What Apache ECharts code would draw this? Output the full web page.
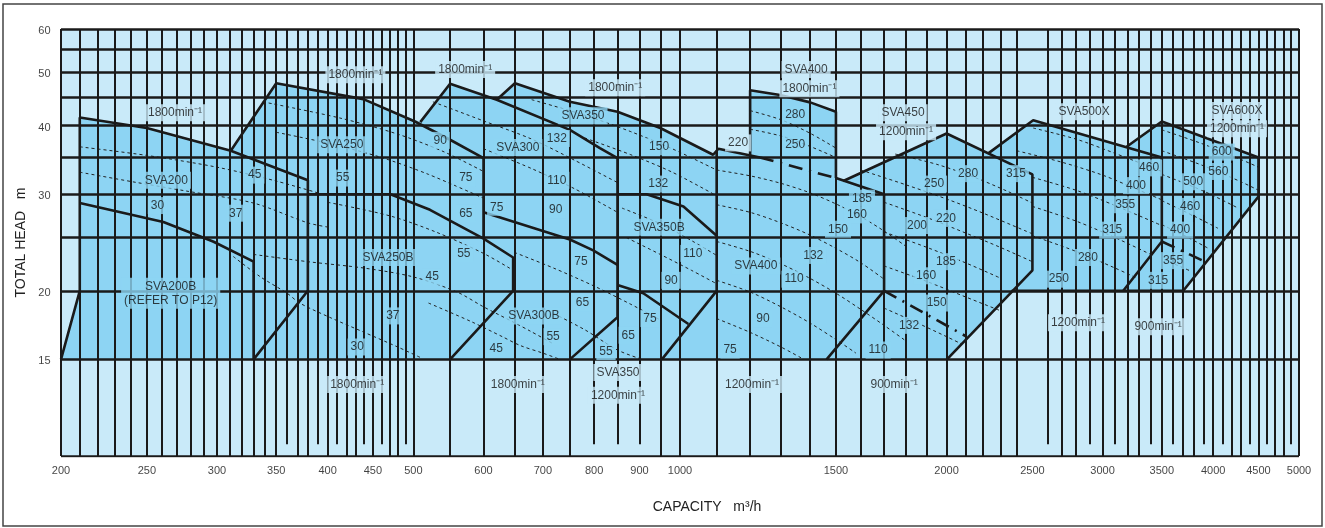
<!DOCTYPE html>
<html><head><meta charset="utf-8">
<script src="https://cdn.jsdelivr.net/npm/echarts@6/dist/echarts.min.js"></script>
<style>html,body{margin:0;padding:0;background:#fff}#c{width:1325px;height:528px}</style>
</head><body><div id="c"></div><script>
const LIGHT='#c9eaf9', MID='#8dd4f3', INK='#1a1a1a', FONT="'Liberation Sans', Arial, sans-serif";

const X_TICKS=[200,250,300,350,400,450,500,600,700,800,900,1000,1500,2000,2500,3000,3500,4000,4500,5000];
const Y_TICKS=[15,20,30,40,50,60];
const GRID_X=[200,210,220,230,240,250,260,270,280,290,300,310,320,330,340,350,360,370,380,390,400,410,420,430,440,450,460,470,480,490,500,
 550,600,650,700,750,800,850,900,950,1000,1100,1200,1300,1400,1500,1600,1700,1800,1900,2000,2100,2200,2300,2400,
 2600,2700,2800,2900,3000,3100,3200,3300,3400,3500,3600,3700,3800,3900,4000,4100,4200,4300,4400,4500,4600,4700,4800,4900,5000];
const GRID_X_SHORT=[360,390,410,440,460,490,800,850,900,2600,2900,3100,3400,3600,3900,4100,4400,4600,4900];
const GRID_Y=[15,20,25,30,35,40,45,50,55,60];

// filled envelope of all pump ranges
const FILL=[[200,15],[210,20],[210,41.4],[250,39.6],[311,36.0],[350,47.8],[439,44.7],[509,40.6],[550,47.7],[621,44.6],[651,47.8],[751,44.2],[850,42.4],[950,39.6],[1090,35.4],[1105,36.3],[1200,35.3],[1200,46.4],[1297,45.5],[1403,44.1],[1500,42.4],[1500,32.1],[1529,31.7],[2000,38.7],[2229,35.6],[2505,40.9],[3194,36.6],[3500,40.7],[4500,35.0],[4500,29.7],[3701,20],[2368,20],[2002,15]];

// solid outlines
const O_200=[[200,15],[210,20],[210,41.4],[250,39.6],[311,36.0],[380,31.8],[380,20]];
const O_200B=[[210,28.9],[261,26.7],[297,24.6],[330,22.6],[330,15],[380,20]];
const O_250=[[311,36.0],[350,47.8],[439,44.7],[502,40.7],[550,37.7],[600,34.9],[600,24.9]];
const O_250B=[[380,30],[471,30],[522,28.1],[600,24.9],[648,23.0],[648,20],[550,15]];
const O_300=[[509,40.6],[550,47.7],[621,44.6],[751,39.3],[812,36.4],[850,34.9],[850,17.9],[751,15]];
const O_300_75=[[600,27.8],[751,24.8],[798,23.7],[850,22.3]];
const O_350=[[621,44.6],[651,47.8],[751,44.2],[850,42.4],[950,39.6],[1090,35.4],[1105,36.3],[1231,35.0]];
const O_350B=[[850,30],[917,30],[1009,28.5],[1100,25.2]];
const O_350L=[[850,20.5],[909,19.8],[1022,17.4]];
const O_400L=[[1100,36.0],[1100,20],[954,15]];
const O_400H=[[1200,35.3],[1200,46.4],[1297,45.5],[1403,44.1],[1500,42.4],[1500,32.1]];
const O_400R=[[1500,32.1],[1700,30],[1700,20],[1464,15]];
const O_450=[[1529,31.7],[2000,38.7],[2500,32.6],[2500,21.8],[2002,15]];
const O_500=[[2229,35.6],[2505,40.9],[3500,35.0],[3500,24.6],[3166,20]];
const O_600=[[3194,36.6],[3500,40.7],[4500,35.0],[4500,29.7],[3701,20],[2368,20]];
// dash-dot boundaries
const B_400=[[1231,35.0],[1500,32.1]];
const B_450=[[1700,20],[2107,16.5]];
const B_600=[[3500,24.6],[3916,22.6]];

// thin dashed curves
const D_200A=[[210,36.6],[250,35.3],[300,33.6],[350,31.7],[400,29.8]];
const D_200B=[[210,32.9],[241,31.6],[277,30.4],[330,28.9],[380,26.6],[402,26.1]];
const D_200C=[[313,23.1],[336,21.2],[360,19.8],[372,19.0],[402,17.9],[440,16.8],[480,15.8],[510,15.1]];
const D_250A=[[338,44.2],[413,41.3],[480,38.6],[540,35.9],[600,33.0]];
const D_250B=[[350,38.9],[402,37.1],[460,35.0],[520,32.6],[600,29.5]];
const D_250C=[[400,29.0],[470,27.4],[530,25.6],[600,23.4],[648,21.8]];
const D_250D=[[330,23.3],[380,22.6],[440,22.0],[500,21.2],[560,19.9],[600,18.7],[650,17.5],[677,16.9],[720,16.0]];
const D_300A=[[526,44.2],[600,40.8],[680,37.8],[760,34.6],[850,31.5]];
const D_300B=[[600,36.3],[680,33.4],[760,30.7],[850,27.8]];
const D_300C=[[650,23.5],[720,22.0],[800,20.4],[880,18.9],[950,17.7]];
const D_300D=[[520,19.0],[580,17.6],[630,16.5],[660,15.9],[700,15.4],[732,15.0]];
const D_300E=[[700,18.6],[780,17.0],[850,15.6],[906,15.0]];
const D_350A=[[680,44.6],[780,41.8],[880,39.0],[980,36.3],[1100,33.2]];
const D_350B=[[780,38.0],[880,35.4],[980,32.9],[1100,29.8]];
const D_350C=[[860,28.3],[950,26.5],[1030,24.7],[1100,23.2]];
const D_350D=[[870,25.0],[950,23.3],[1030,21.8],[1100,20.6]];
const D_400HA=[[1200,42.6],[1300,41.0],[1400,38.8],[1500,36.4]];
const D_400HB=[[1200,39.4],[1300,38.3],[1400,36.7],[1500,35.0]];
const D_400A=[[1100,33.2],[1200,32.4],[1300,31.4],[1400,30.2],[1500,28.8],[1600,27.3],[1700,25.7],[1800,24.1]];
const D_400B=[[1100,28.7],[1200,27.8],[1300,26.6],[1400,25.3],[1500,23.9],[1600,22.5],[1700,21.0]];
const D_400C=[[1100,24.6],[1200,23.6],[1300,22.4],[1400,21.1],[1500,19.8],[1600,18.5],[1700,17.3],[1800,16.2]];
const D_400D=[[1100,20.9],[1200,19.9],[1300,18.7],[1400,17.5],[1500,16.3],[1580,15.4]];
const D_400E=[[1100,17.8],[1200,16.8],[1300,15.8],[1380,15.0]];
const D_450A=[[1750,35.5],[1950,34.0],[2150,32.2],[2350,30.3],[2500,28.9]];
const D_450B=[[1600,33.2],[1800,31.2],[2000,29.4],[2200,27.7],[2500,25.4]];
const D_450C=[[1700,29.0],[1900,27.2],[2100,25.5],[2300,24.0],[2500,22.6]];
const D_450D=[[1700,25.6],[1900,24.0],[2100,22.5],[2300,21.1]];
const D_450E=[[1700,22.2],[1900,20.8],[2100,19.5],[2300,18.4]];
const D_450F=[[1700,18.6],[1850,17.5],[2000,16.5],[2080,16.0]];
const D_500A=[[2505,39.6],[2800,37.8],[3100,35.6],[3500,33.0]];
const D_500B=[[2400,36.0],[2700,34.3],[3000,32.5],[3300,30.5],[3500,29.3]];
const D_500C=[[2500,32.2],[2800,30.5],[3100,28.6],[3500,26.3]];
const D_500D=[[2500,28.5],[2800,26.8],[3100,25.0],[3400,23.3]];
const D_500E=[[2500,25.2],[2800,23.6],[3100,22.0],[3300,21.0]];
const D_600A=[[3500,39.3],[3900,37.0],[4300,34.7],[4500,33.6]];
const D_600B=[[3500,36.0],[3900,33.8],[4300,31.6],[4500,30.5]];
const D_600C=[[3500,32.6],[3900,30.4],[4250,28.4]];
const D_600D=[[3500,29.2],[3800,27.4],[4050,26.0]];
const D_600E=[[3500,26.4],[3750,25.0],[3950,23.9]];
const D_600F=[[3520,22.8],[3780,21.7]];

// labels: [text, capacity, head]
const LABELS_OUT=[
 ['1800min⁻¹',269,42.2],['1800min⁻¹',430,49.5],['1800min⁻¹',572,50.6],['1800min⁻¹',845,46.9],
 ['SVA400',1388,50.6],['1800min⁻¹',1400,46.7],['220',1163,37.2],
 ['SVA450',1786,42.2],['1200min⁻¹',1800,39.0],['SVA500X',2860,42.4],['SVA600X',4256,42.6],['1200min⁻¹',4256,39.5],
 ['1800min⁻¹',432,13.5],['1800min⁻¹',656,13.5],['SVA350',851,14.2],['1200min⁻¹',851,12.9],['1200min⁻¹',1206,13.5],['900min⁻¹',1745,13.5],
 ['1200min⁻¹',2814,17.5],['900min⁻¹',3466,17.2]
];
const LABELS_IN=[
 ['SVA200',263,31.8],['45',331,32.5],['30',257,28.6],['37',315,27.7],['SVA200B\n(REFER TO P12)',266,19.8],
 ['SVA250',415,36.9],['55',416,32.1],['90',536,37.6],['75',573,32.1],['65',573,27.7],['75',621,28.4],
 ['SVA300',656,36.5],['132',726,37.9],['SVA350',777,41.7],['110',726,31.8],['90',724,28.1],
 ['150',947,36.6],['132',945,31.3],['SVA350B',947,26.1],['110',1034,23.4],['90',977,20.9],
 ['SVA250B',468,23.0],['45',525,21.2],['55',570,23.4],['37',474,18.0],['30',432,15.8],
 ['SVA300B',684,18.0],['45',620,15.7],['55',719,16.5],['75',773,22.6],['65',776,19.0],
 ['55',825,15.5],['65',874,16.6],['75',925,17.8],
 ['280',1349,41.9],['250',1349,36.9],
 ['SVA400',1218,22.2],['132',1414,23.2],['110',1345,21.0],['90',1241,17.8],['75',1139,15.6],
 ['185',1605,29.5],['160',1584,27.5],['150',1508,25.9],
 ['250',1936,31.3],['280',2115,32.7],['315',2395,32.7],['200',1852,26.3],['220',1997,27.1],['185',1997,22.6],['160',1896,21.3],['150',1949,19.0],['132',1814,17.3],['110',1674,15.6],
 ['460',3386,33.5],['400',3273,31.1],['355',3182,28.7],['315',3076,25.8],['280',2888,23.0],['250',2678,21.0],
 ['600',4090,35.8],['500',3797,31.6],['560',4054,33.0],['460',3767,28.5],['400',3670,25.8],['355',3604,22.7],['315',3466,20.9]
];

const SOLIDS=[O_200,O_200B,O_250,O_250B,O_300,O_300_75,O_350,O_350B,O_350L,O_400L,O_400H,O_400R,O_450,O_500,O_600];
const DASHDOTS=[B_400,B_450,B_600];
const DASHES=[D_200A,D_200B,D_200C,D_250A,D_250B,D_250C,D_250D,D_300A,D_300B,D_300C,D_300D,D_300E,D_350A,D_350B,D_350C,D_350D,
 D_400HA,D_400HB,D_400A,D_400B,D_400C,D_400D,D_400E,D_450A,D_450B,D_450C,D_450D,D_450E,D_450F,
 D_500A,D_500B,D_500C,D_500D,D_500E,D_600A,D_600B,D_600C,D_600D,D_600E,D_600F];

const chart=echarts.init(document.getElementById('c'),null,{renderer:'canvas'});
const series=[];
series.push({type:'custom',data:FILL,encode:{x:0,y:1},z:1,silent:true,clip:true,
 renderItem:(params,api)=>{ if(params.dataIndex!==0) return null;
  return {type:'polygon',shape:{points:FILL.map(p=>api.coord(p))},style:{fill:MID}}; }});
DASHES.forEach(d=>series.push({type:'line',data:d,symbol:'none',smooth:0.3,z:2,silent:true,
 lineStyle:{color:'#222',width:1,type:[3,3]}}));
series.push({type:'lines',coordinateSystem:'cartesian2d',z:3,silent:true,
 data:GRID_X.map(v=>({coords:[[v,GRID_X_SHORT.includes(v)?10.5:10],[v,60]]})),
 lineStyle:{color:INK,width:2,opacity:1,curveness:0}});
series.push({type:'lines',coordinateSystem:'cartesian2d',z:3,silent:true,
 data:GRID_Y.map(v=>({coords:[[200,v],[5000,v]]})).concat([{coords:[[200,10],[5000,10]]}]),
 lineStyle:{color:INK,width:2.6,opacity:1,curveness:0}});
SOLIDS.forEach(d=>series.push({type:'line',data:d,symbol:'none',z:4,silent:true,lineStyle:{color:INK,width:2.6}}));
DASHDOTS.forEach(d=>series.push({type:'line',data:d,symbol:'none',z:4,silent:true,lineStyle:{color:INK,width:2.6,type:[14,7,2,7]}}));
function labelSeries(arr,bg){
 return {type:'scatter',symbolSize:1,itemStyle:{color:'rgba(0,0,0,0)'},zlevel:1,z:6,silent:true,
  data:arr.map(l=>({value:[l[1],l[2]],name:l[0]})),
  label:{show:true,position:'inside',formatter:'{b}',color:'#111',fontSize:12,fontFamily:FONT,
   backgroundColor:bg,padding:[2,3,1,3],lineHeight:14}};
}
series.push(labelSeries(LABELS_IN,MID));
series.push(labelSeries(LABELS_OUT,LIGHT));
series.push({type:'scatter',symbolSize:1,itemStyle:{color:'rgba(0,0,0,0)'},zlevel:1,z:6,silent:true,
 data:X_TICKS.map(v=>({value:[v,10],name:String(v)})),
 label:{show:true,position:'bottom',distance:9,formatter:'{b}',color:'#111',fontSize:11,fontFamily:FONT}});
series.push({type:'scatter',symbolSize:1,itemStyle:{color:'rgba(0,0,0,0)'},zlevel:1,z:6,silent:true,
 data:Y_TICKS.map(v=>({value:[200,v],name:String(v)})),
 label:{show:true,position:'left',distance:10,offset:[0,2],formatter:'{b}',color:'#111',fontSize:11,fontFamily:FONT}});

chart.setOption({
 animation:false,
 backgroundColor:'#fff',
 grid:{left:61,right:26,top:29,bottom:72,show:true,backgroundColor:LIGHT,borderWidth:0},
 xAxis:{type:'log',logBase:10,min:200,max:5000,axisLabel:{show:false},axisTick:{show:false},axisLine:{show:false},splitLine:{show:false},
  name:'CAPACITY   m³/h',nameLocation:'middle',nameGap:44,nameTextStyle:{fontSize:14,color:'#222',fontFamily:FONT,padding:[0,0,0,54]}},
 yAxis:{type:'log',logBase:10,min:10,max:60,axisLabel:{show:false},axisTick:{show:false},axisLine:{show:false},splitLine:{show:false},
  name:'TOTAL HEAD   m',nameLocation:'middle',nameGap:33,nameRotate:90,nameTextStyle:{fontSize:14,color:'#222',fontFamily:FONT}},
 graphic:[{type:'rect',shape:{x:3,y:4,width:1319,height:522},style:{fill:'none',stroke:'#444',lineWidth:1.5},z:10}],
 series
});
</script></body></html>
